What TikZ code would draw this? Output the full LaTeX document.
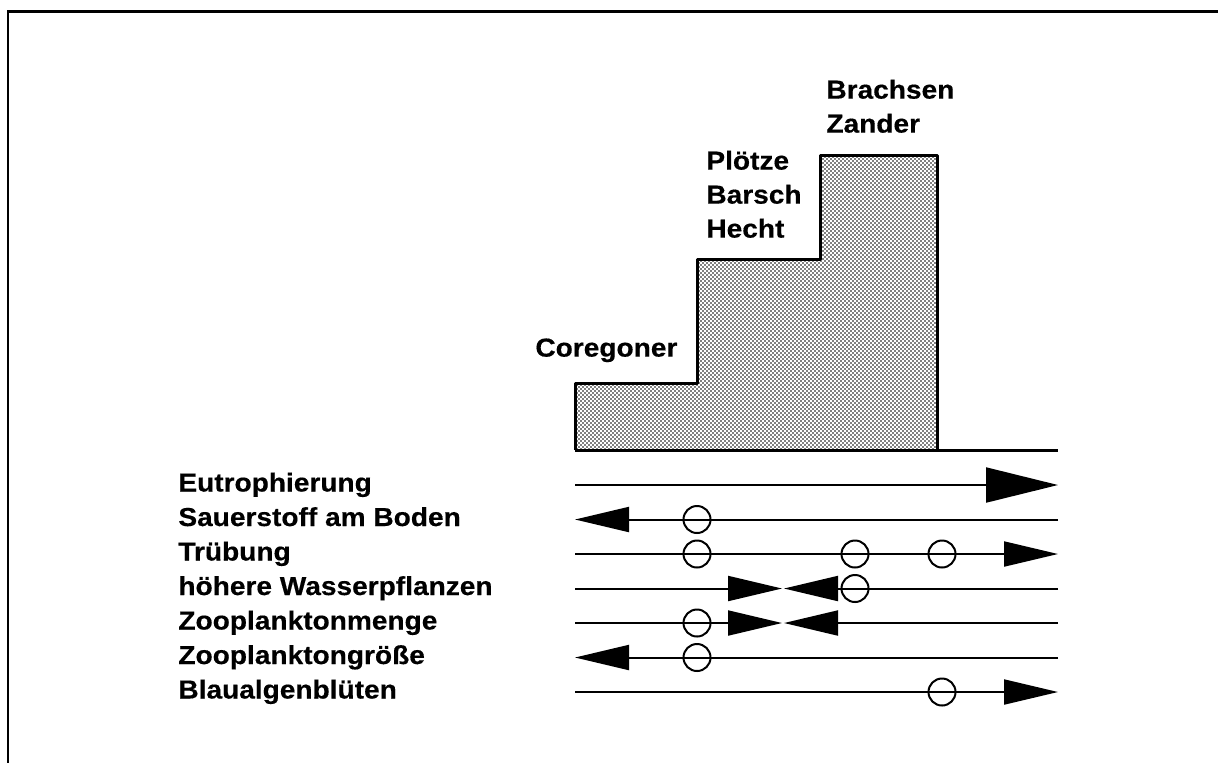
\documentclass[tikz,border=0pt]{standalone}
\usepackage{fontspec}
\setmainfont{Liberation Sans}[FakeStretch=1.08, BoldFeatures={FakeBold=0.4}]
\usetikzlibrary{arrows.meta,patterns}

% fine dot raster for the filled steps
\pgfdeclarepatternformonly{stipple}{\pgfqpoint{-0.1pt}{-0.1pt}}{\pgfqpoint{2.1pt}{2.1pt}}{\pgfqpoint{2pt}{2pt}}{
  \pgfpathcircle{\pgfqpoint{0.5pt}{0.5pt}}{0.4pt}
  \pgfpathcircle{\pgfqpoint{1.5pt}{1.5pt}}{0.4pt}
  \pgfusepath{fill}}

\begin{document}
\begin{tikzpicture}[x=0.5pt, y=-0.5pt, font=\bfseries\fontsize{13}{17}\selectfont]
  \tikzstyle{factor} = [anchor=base west, inner sep=0pt]
  \tikzstyle{fishname} = [anchor=south west, inner sep=0pt, align=left, text depth=0pt]
  \tikzstyle{trend} = [line width=1pt]
  \tikzstyle{ring} = [circle, draw, line width=1pt, minimum size=13.5pt, inner sep=0pt]
  \tikzstyle{headed} = [trend, -{Triangle[length=27pt, width=12.5pt]}]
  \tikzstyle{bighead} = [trend, -{Triangle[length=36pt, width=17.5pt]}]
\useasboundingbox (0,0) rectangle (1218,762);
% frame
\draw[line width=1.25pt] (8,770) -- (8,11.5) -- (1230,11.5);

% fish stages
\fill[pattern=stipple] (575,450) -- (575,383) -- (697,383) -- (697,259) -- (820,259)
  -- (820,155) -- (937,155) -- (937,450) -- cycle;
\draw[line width=1.5pt, line join=round] (575,450) -- (575,383) -- (697,383) -- (697,259)
  -- (820,259) -- (820,155) -- (937,155) -- (937,450);
\draw[line width=1.5pt] (575,450) -- (1058,450);
\node[fishname] (coreg) at (535,357) {Coregoner};
\node[fishname] (ploetze) at (706,238) {Plötze\\Barsch\\Hecht};
\node[fishname] (brachsen) at (826,133) {Brachsen\\Zander};

% factors
\node[factor] (eutro) at (178,491.5) {Eutrophierung};
\node[factor] (sauer) at (178,526) {Sauerstoff am Boden};
\node[factor] (trueb) at (178,560.5) {Trübung};
\node[factor] (pflanz) at (178,595) {höhere Wasserpflanzen};
\node[factor] (zmenge) at (178,629.5) {Zooplanktonmenge};
\node[factor] (zgroesse) at (178,664) {Zooplanktongröße};
\node[factor] (blau) at (178,698.5) {Blaualgenblüten};

\coordinate (eutro-a) at (575,485);    \coordinate (eutro-b) at (1058,485);
\coordinate (sauer-a) at (575,519.5);  \coordinate (sauer-b) at (1058,519.5);
\coordinate (trueb-a) at (575,554);    \coordinate (trueb-b) at (1058,554);
\coordinate (pflanz-a) at (575,588.5); \coordinate (pflanz-b) at (1058,588.5);
\coordinate (pflanz-m1) at (782,588.5); \coordinate (pflanz-m2) at (784,588.5);
\coordinate (zmenge-a) at (575,623);   \coordinate (zmenge-b) at (1058,623);
\coordinate (zmenge-m1) at (782,623);  \coordinate (zmenge-m2) at (784,623);
\coordinate (zgr-a) at (575,657.5);    \coordinate (zgr-b) at (1058,657.5);
\coordinate (blau-a) at (575,692);     \coordinate (blau-b) at (1058,692);

\draw[bighead] (eutro-a) -- (eutro-b);
\draw[headed] (sauer-b) -- (sauer-a);
\draw[headed] (trueb-a) -- (trueb-b);
\draw[headed] (pflanz-a) -- (pflanz-m1);
\draw[headed] (pflanz-b) -- (pflanz-m2);
\draw[headed] (zmenge-a) -- (zmenge-m1);
\draw[headed] (zmenge-b) -- (zmenge-m2);
\draw[headed] (zgr-b) -- (zgr-a);
\draw[headed] (blau-a) -- (blau-b);

\node[ring] (sauer-o) at (697,519.5) {};
\node[ring] (trueb-o1) at (697,554) {};
\node[ring] (trueb-o2) at (855,554) {};
\node[ring] (trueb-o3) at (942,554) {};
\node[ring] (pflanz-o) at (855,588.5) {};
\node[ring] (zmenge-o) at (697,623) {};
\node[ring] (zgr-o) at (697,657.5) {};
\node[ring] (blau-o) at (942,692) {};
\end{tikzpicture}
\end{document}
